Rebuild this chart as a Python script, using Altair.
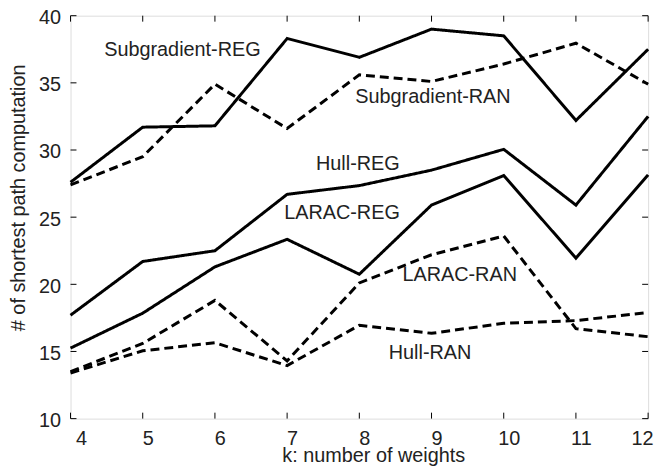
import altair as alt
import pandas as pd

k = [4, 5, 6, 7, 8, 9, 10, 11, 12]
sub_reg = [27.6, 31.7, 31.8, 38.3, 36.9, 39.0, 38.5, 32.2, 37.5]
sub_ran = [27.4, 29.5, 34.9, 31.6, 35.6, 35.1, 36.4, 37.95, 34.9]
hull_reg = [17.7, 21.7, 22.5, 26.7, 27.35, 28.5, 30.05, 25.9, 32.5]
larac_reg = [15.25, 17.85, 21.3, 23.35, 20.75, 25.9, 28.1, 21.95, 28.15]
larac_ran = [13.5, 15.6, 18.8, 14.3, 20.1, 22.2, 23.6, 16.7, 16.1]
hull_ran = [13.4, 15.05, 15.65, 13.95, 16.95, 16.35, 17.1, 17.3, 17.9]

series_names = ["Subgradient-REG", "Subgradient-RAN", "Hull-REG",
                "LARAC-REG", "LARAC-RAN", "Hull-RAN"]
series_values = [sub_reg, sub_ran, hull_reg, larac_reg, larac_ran, hull_ran]

label_text = series_names
label_k = [5.55, 9.02, 7.98, 7.76, 9.39, 8.98]
label_v = [37.43, 33.93, 28.98, 25.31, 20.72, 14.85]

x_ticks = [4, 5, 6, 7, 8, 9, 10, 11, 12]
y_ticks = [10, 15, 20, 25, 30, 35, 40]

W, H = 582, 406
FONT = "Liberation Sans"
TXT = "#222222"

rows = []
for name, vals in zip(series_names, series_values):
    kind = "RAN" if name.endswith("RAN") else "REG"
    for kk, v in zip(k, vals):
        rows.append({"k": kk, "v": v, "series": name, "kind": kind})
df = pd.DataFrame(rows)

labels_df = pd.DataFrame({"text": label_text, "k": label_k, "v": label_v})
xt_df = pd.DataFrame({"k": x_ticks})
yt_df = pd.DataFrame({"v": y_ticks})

xscale = alt.Scale(domain=[4, 12], nice=False, zero=False)
yscale = alt.Scale(domain=[10, 40], nice=False, zero=False)

x_axis = alt.Axis(values=x_ticks, format="d", title="k: number of weights",
                  labelFont=FONT, labelFontSize=20, labelColor=TXT,
                  labelPadding=10, labelOffset=5, titleFont=FONT,
                  titleFontSize=20, titleFontWeight="normal", titleColor=TXT,
                  titleX=305, titleY=43, titleBaseline="alphabetic",
                  ticks=False, domain=False, grid=False, tickSize=0)
y_axis = alt.Axis(values=y_ticks, format="d",
                  title="# of shortest path computation",
                  labelFont=FONT, labelFontSize=20, labelColor=TXT,
                  labelPadding=10, labelOffset=2, titleFont=FONT,
                  titleFontSize=20, titleFontWeight="normal", titleColor=TXT,
                  titleX=-52, titleY=183, titleAngle=270,
                  titleBaseline="middle", titleAlign="center", ticks=False,
                  domain=False, grid=False, tickSize=0)

lines = alt.Chart(df).mark_line(color="black", strokeWidth=3).encode(
    x=alt.X("k:Q", scale=xscale, axis=x_axis),
    y=alt.Y("v:Q", scale=yscale, axis=y_axis),
    detail="series:N",
    strokeDash=alt.StrokeDash("kind:N", scale=alt.Scale(domain=["REG", "RAN"], range=[[1, 0], [9, 5]]), legend=None),
)

texts = alt.Chart(labels_df).mark_text(font=FONT, fontSize=20, color=TXT,
                                       align="center", baseline="middle").encode(
    x=alt.X("k:Q", scale=xscale),
    y=alt.Y("v:Q", scale=yscale),
    text="text:N",
)

tick_b = alt.Chart(xt_df).mark_rule(color="black", strokeWidth=1).encode(
    x=alt.X("k:Q", scale=xscale), y=alt.value(H), y2=alt.value(H - 6))
tick_t = alt.Chart(xt_df).mark_rule(color="black", strokeWidth=1).encode(
    x=alt.X("k:Q", scale=xscale), y=alt.value(0), y2=alt.value(6))
tick_l = alt.Chart(yt_df).mark_rule(color="black", strokeWidth=1).encode(
    y=alt.Y("v:Q", scale=yscale), x=alt.value(0), x2=alt.value(6))
tick_r = alt.Chart(yt_df).mark_rule(color="black", strokeWidth=1).encode(
    y=alt.Y("v:Q", scale=yscale), x=alt.value(W), x2=alt.value(W - 6))

chart = alt.layer(tick_b, tick_t, tick_l, tick_r, lines, texts).properties(
    width=W, height=H,
    autosize=alt.AutoSizeParams(type="none"),
    padding={"left": 63, "top": 6, "right": 16, "bottom": 48},
).configure_view(stroke="black", strokeWidth=2).configure(background="white")

chart.save("out.html", embed_options={"renderer": "svg", "actions": False})
